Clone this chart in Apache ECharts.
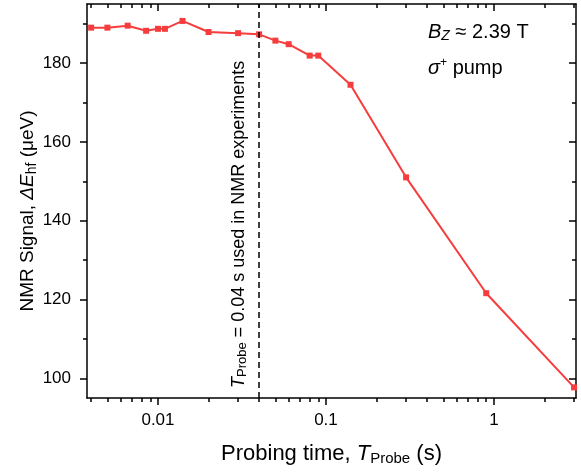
<!DOCTYPE html>
<html>
<head>
<meta charset="utf-8">
<script src="https://cdn.jsdelivr.net/npm/echarts@6/dist/echarts.min.js"></script>
<style>
html,body{margin:0;padding:0;background:#fff;}
#chart{width:581px;height:472px;}
</style>
</head>
<body>
<div id="chart"></div>
<script>
// ---- data ----
var tProbe = [0.004, 0.005, 0.0066, 0.0085, 0.010, 0.011, 0.014, 0.020, 0.030, 0.040, 0.050, 0.060, 0.080, 0.090, 0.14, 0.30, 0.90, 3.0];
var signal = [189.0, 189.0, 189.5, 188.2, 188.7, 188.7, 190.7, 187.9, 187.6, 187.3, 185.7, 184.8, 181.9, 181.9, 174.5, 151.0, 121.6, 97.7];
var T_MARK = 0.04;

// ---- axes ----
var X_MIN = 0.00378, X_MAX = 3.08;
var Y_MIN = 95, Y_MAX = 195;
var X_MAJOR = [0.01, 0.1, 1];
var X_MINOR = [0.004,0.005,0.006,0.007,0.008,0.009,0.02,0.03,0.04,0.05,0.06,0.07,0.08,0.09,0.2,0.3,0.4,0.5,0.6,0.7,0.8,0.9,2,3];
var Y_MAJOR = [100, 120, 140, 160, 180];
var Y_MINOR = [110, 130, 150, 170, 190];

var FONT = 'Liberation Sans, Arial, sans-serif';
var RED = '#f63d3d';
var AX = {color: '#000', width: 1.5};

function xAxisDef(pos, ticks, len, inside, labels, line) {
  return {
    type: 'log', position: pos, min: X_MIN, max: X_MAX, logBase: 10,
    axisLine: {show: line, lineStyle: AX},
    axisTick: {show: true, inside: inside, length: len, lineStyle: AX, customValues: ticks},
    axisLabel: labels ? {show: true, customValues: labels, margin: 14, color: '#000', fontSize: 17, fontFamily: FONT,
      formatter: function (v) { return String(+v.toPrecision(6)); }} : {show: false},
    splitLine: {show: false}, minorTick: {show: false}
  };
}
function yAxisDef(pos, ticks, len, inside, labels, line) {
  return {
    type: 'value', position: pos, min: Y_MIN, max: Y_MAX,
    axisLine: {show: line, lineStyle: AX},
    axisTick: {show: true, inside: inside, length: len, lineStyle: AX, customValues: ticks},
    axisLabel: labels ? {show: true, customValues: labels, margin: 16, color: '#000', fontSize: 17, fontFamily: FONT} : {show: false},
    splitLine: {show: false}
  };
}

var xAxes = [
  xAxisDef('bottom', X_MAJOR, 7, false, X_MAJOR, true),
  xAxisDef('bottom', X_MINOR, 4, false, null, false),
  xAxisDef('top', X_MAJOR, 7, true, null, true),
  xAxisDef('top', X_MINOR, 4, true, null, false)
];
xAxes[0].name = '{n|Probing time, }{it|T}{sub|Probe}{n| (s)}';
xAxes[0].nameLocation = 'middle';
xAxes[0].nameGap = 43;
xAxes[0].nameTextStyle = {
  rich: {
    n: {fontSize: 22, fontFamily: FONT, color: '#000'},
    it: {fontSize: 22, fontFamily: FONT, fontStyle: 'italic', color: '#000'},
    sub: {fontSize: 15, fontFamily: FONT, color: '#000', padding: [10, 0, 0, 0]}
  }
};

var yAxes = [
  yAxisDef('left', Y_MAJOR, 7, false, Y_MAJOR, true),
  yAxisDef('left', Y_MINOR, 4, false, null, false),
  yAxisDef('right', Y_MAJOR, 7, true, null, true),
  yAxisDef('right', Y_MINOR, 4, true, null, false)
];
yAxes[0].name = '{n|NMR Signal, }{it|ΔE}{sub|hf}{n| (μeV)}';
yAxes[0].nameLocation = 'middle';
yAxes[0].nameGap = 48;
yAxes[0].nameMoveOverlap = false;
yAxes[0].nameTextStyle = {
  padding: [0, 20, 0, 0],
  rich: {
    n: {fontSize: 19, fontFamily: FONT, color: '#000'},
    it: {fontSize: 19, fontFamily: FONT, fontStyle: 'italic', color: '#000'},
    sub: {fontSize: 14, fontFamily: FONT, color: '#000', padding: [9, 0, 0, 0]}
  }
};

var chart = echarts.init(document.getElementById('chart'), null, {renderer: 'canvas'});
chart.setOption({
  animation: false,
  backgroundColor: '#fff',
  grid: {left: 87, right: 5, top: 4, bottom: 74, containLabel: false},
  xAxis: xAxes,
  yAxis: yAxes,
  series: [{
    type: 'line',
    xAxisIndex: 0, yAxisIndex: 0,
    data: tProbe.map(function (t, i) { return [t, signal[i]]; }),
    symbol: 'rect', symbolSize: 6,
    lineStyle: {color: RED, width: 2},
    itemStyle: {color: RED},
    clip: false,
    markLine: {
      silent: true,
      symbol: ['none', 'none'],
      lineStyle: {color: '#000', type: [6, 4], width: 1.5},
      label: {
        show: true,
        position: 'insideStartTop',
        distance: 10,
        formatter: '{it|T}{sub|Probe}{n| = 0.04 s used in NMR experiments}',
        rich: {
          n: {fontSize: 18, fontFamily: FONT, color: '#000'},
          it: {fontSize: 18, fontFamily: FONT, fontStyle: 'italic', color: '#000'},
          sub: {fontSize: 13, fontFamily: FONT, color: '#000', padding: [8, 0, 0, 0]}
        }
      },
      data: [{xAxis: T_MARK}]
    }
  }],
  graphic: [
    {type: 'text', left: 428, top: 22, style: {
      text: '{it|B}{sub|Z}{n| ≈ 2.39 T}',
      rich: {
        n: {fontSize: 20, fontFamily: FONT, fill: '#000'},
        it: {fontSize: 20, fontFamily: FONT, fontStyle: 'italic', fill: '#000'},
        sub: {fontSize: 14, fontFamily: FONT, fontStyle: 'italic', fill: '#000', padding: [8, 0, 0, 0]}
      }}},
    {type: 'text', left: 428, top: 57, style: {
      text: '{it|σ}{sup|+}{n| pump}',
      rich: {
        n: {fontSize: 20, fontFamily: FONT, fill: '#000'},
        it: {fontSize: 20, fontFamily: FONT, fontStyle: 'italic', fill: '#000'},
        sup: {fontSize: 12, fontFamily: FONT, fill: '#000', padding: [0, 0, 10, 0]}
      }}}
  ]
});
</script>
</body>
</html>
